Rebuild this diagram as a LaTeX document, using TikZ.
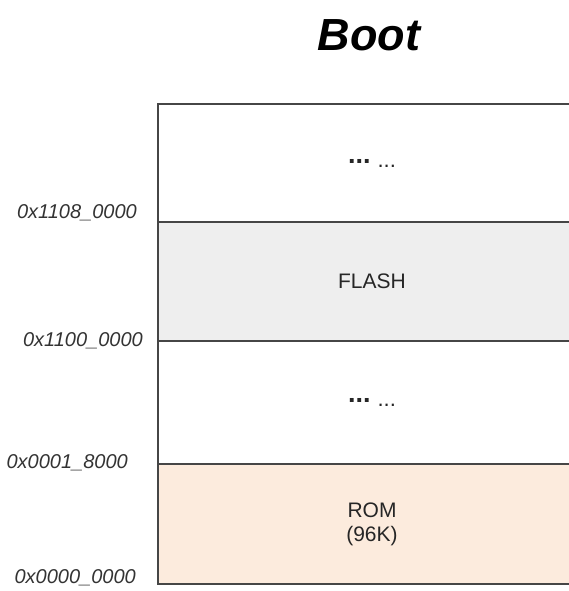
\documentclass[tikz,border=0pt]{standalone}
\usepackage{fontspec}
\setmainfont{Liberation Sans}
\usepackage{xcolor}
\usetikzlibrary{positioning}
\definecolor{flashgray}{RGB}{238,238,238}
\definecolor{rompeach}{RGB}{252,235,221}
\definecolor{edgegray}{RGB}{70,70,70}
\newcommand{\moredots}{\raisebox{4pt}{\fontsize{27}{30}\selectfont\bfseries...}\hspace{7pt}{\fontsize{22}{24}\selectfont...}}

\begin{document}
\begin{tikzpicture}[
    x=1pt, y=1pt,
    node distance=0pt,
    region/.style={rectangle, draw=edgegray, line width=1.6pt, minimum width=428pt, outer sep=0pt, inner sep=0pt, align=center, font=\fontsize{21}{24}\selectfont, text=black!85},
    addr/.style={anchor=east, inner sep=0pt, font=\fontsize{20}{22}\selectfont\itshape, text=black!80}
]
\useasboundingbox (0,0) rectangle (568,591);

\node[font=\fontsize{45}{50}\selectfont\bfseries\itshape] (title) at (369,556) {Boot};

\node[region, anchor=north west, minimum height=118pt] (upper) at (158,487) {\moredots};
\node[region, below=of upper, minimum height=119pt, fill=flashgray] (flash) {FLASH};
\node[region, below=of flash, minimum height=123pt] (gap) {\moredots};
\node[region, below=of gap, minimum height=120pt, fill=rompeach] (rom) {ROM\\(96K)};

% addresses at the region borders
\node[addr] (a1108) at (137,378) {0x1108\_0000};
\node[addr] (a1100) at (143,250) {0x1100\_0000};
\node[addr] (a0001) at (128,128) {0x0001\_8000};
\node[addr] (a0000) at (136,13) {0x0000\_0000};

\end{tikzpicture}
\end{document}
